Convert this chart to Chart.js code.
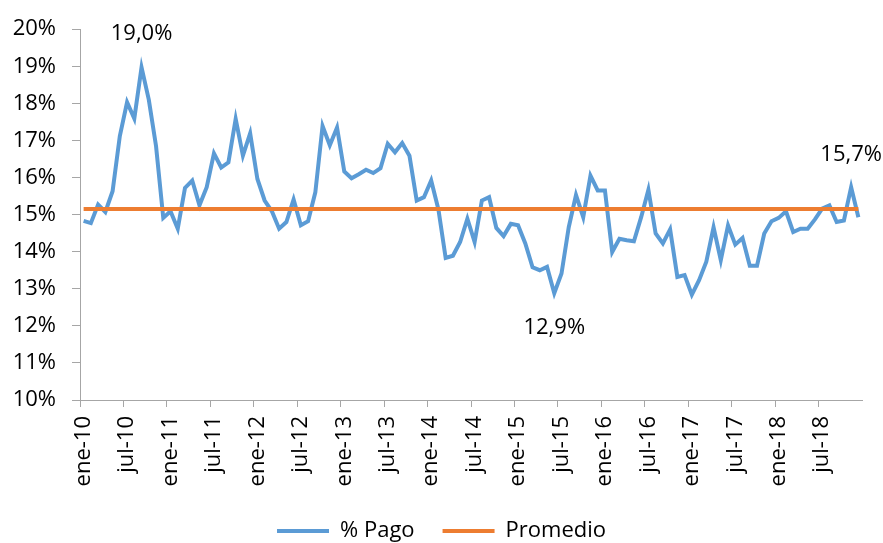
<!DOCTYPE html>
<html><head><meta charset="utf-8">
<script src="https://cdn.jsdelivr.net/npm/chart.js@4/dist/chart.umd.min.js"></script>
<style>html,body{margin:0;padding:0;background:#fff;}#wrap{width:883px;height:543px;}</style>
</head><body><div id="wrap"><canvas id="c" width="883" height="543"></canvas></div>
<script>
const monthNames = ['ene','feb','mar','abr','may','jun','jul','ago','sep','oct','nov','dic'];
const years = ['10','11','12','13','14','15','16','17','18'];
const categories = [];
years.forEach(y => monthNames.forEach(m => categories.push(m + '-' + y)));

const pago2010 = [14.83, 14.77, 15.27, 15.07, 15.63, 17.12, 18.03, 17.59, 18.97, 18.10, 16.85, 14.91];
const pago2011 = [15.09, 14.62, 15.72, 15.92, 15.25, 15.74, 16.65, 16.27, 16.41, 17.58, 16.59, 17.19];
const pago2012 = [15.96, 15.38, 15.09, 14.62, 14.80, 15.41, 14.71, 14.82, 15.60, 17.39, 16.87, 17.35];
const pago2013 = [16.16, 15.98, 16.09, 16.21, 16.12, 16.25, 16.91, 16.68, 16.93, 16.59, 15.38, 15.47];
const pago2014 = [15.92, 15.14, 13.83, 13.89, 14.26, 14.89, 14.26, 15.38, 15.47, 14.64, 14.42, 14.75];
const pago2015 = [14.71, 14.22, 13.58, 13.50, 13.59, 12.88, 13.41, 14.66, 15.53, 14.93, 16.05, 15.65];
const pago2016 = [15.65, 13.99, 14.35, 14.31, 14.28, 14.93, 15.67, 14.49, 14.22, 14.60, 13.32, 13.37];
const pago2017 = [12.84, 13.23, 13.73, 14.66, 13.77, 14.71, 14.19, 14.37, 13.62, 13.62, 14.49, 14.82];
const pago2018 = [14.91, 15.09, 14.53, 14.62, 14.62, 14.87, 15.16, 15.25, 14.80, 14.84, 15.74, 14.93];
const pago = [].concat(pago2010, pago2011, pago2012, pago2013, pago2014, pago2015, pago2016, pago2017, pago2018);

const promedioValue = 15.15;
const promedio = categories.map(() => promedioValue);

const yTicks = [10, 11, 12, 13, 14, 15, 16, 17, 18, 19, 20];
const labelledPoints = [8, 65, 106];

const FONT = {family: "'Open Sans', 'Liberation Sans', sans-serif", size: 22};
const AXIS = '#A6A6A6';
const labelOffsets = {8: -34, 65: 35, 106: -32};

const valueLabels = {
  id: 'valueLabels',
  afterDatasetsDraw(chart) {
    const meta = chart.getDatasetMeta(0);
    const c = chart.ctx;
    c.save();
    c.font = FONT.size + 'px ' + FONT.family;
    c.fillStyle = '#000';
    c.textAlign = 'center';
    c.textBaseline = 'middle';
    labelledPoints.forEach(i => {
      const el = meta.data[i];
      const txt = pago[i].toFixed(1).replace('.', ',') + '%';
      c.fillText(txt, el.x, el.y + labelOffsets[i]);
    });
    c.restore();
  }
};

new Chart(document.getElementById('c'), {
  type: 'line',
  data: {
    labels: categories,
    datasets: [
      {label: '% Pago', data: pago, borderColor: '#5B9BD5', backgroundColor: '#5B9BD5', borderWidth: 4, pointRadius: 0, tension: 0, order: 2},
      {label: 'Promedio', data: promedio, borderColor: '#ED7D31', backgroundColor: '#ED7D31', borderWidth: 4, pointRadius: 0, tension: 0, order: 1}
    ]
  },
  options: {
    responsive: false,
    animation: false,
    devicePixelRatio: 1,
    layout: {padding: {top: 26, right: 0, bottom: -9, left: 0}},
    plugins: {
      tooltip: {enabled: false},
      legend: {
        position: 'bottom',
        labels: {usePointStyle: true, pointStyle: 'line', pointStyleWidth: 52, padding: 28, color: '#000', font: FONT,
          sort: (a, b) => a.datasetIndex - b.datasetIndex}
      }
    },
    scales: {
      x: {
        offset: true,
        grid: {offset: true, drawOnChartArea: false, tickLength: 7, color: c => (c.index % 6 === 0 ? AXIS : 'rgba(0,0,0,0)')},
        border: {color: AXIS, width: 1},
        ticks: {autoSkip: false, minRotation: 90, maxRotation: 90, padding: 9, color: '#000', font: FONT,
          callback: (v, i) => (i % 6 === 0 ? categories[i] : '')},
        afterFit: s => { s.height = 92; s.paddingLeft = 0; s.paddingRight = 0; }
      },
      y: {
        min: yTicks[0], max: yTicks[yTicks.length - 1],
        afterBuildTicks: s => { s.ticks = yTicks.map(v => ({value: v})); },
        ticks: {padding: 16, color: '#000', font: FONT, callback: v => v + '%'},
        grid: {drawOnChartArea: false, tickLength: 8, color: AXIS},
        border: {color: AXIS, width: 1},
        afterFit: s => { s.width = 80; }
      },
      yPad: {
        type: 'linear', position: 'right', display: true,
        ticks: {display: false}, grid: {display: false}, border: {display: false},
        afterFit: s => { s.width = 21; }
      }
    }
  },
  plugins: [valueLabels]
});
</script></body></html>
